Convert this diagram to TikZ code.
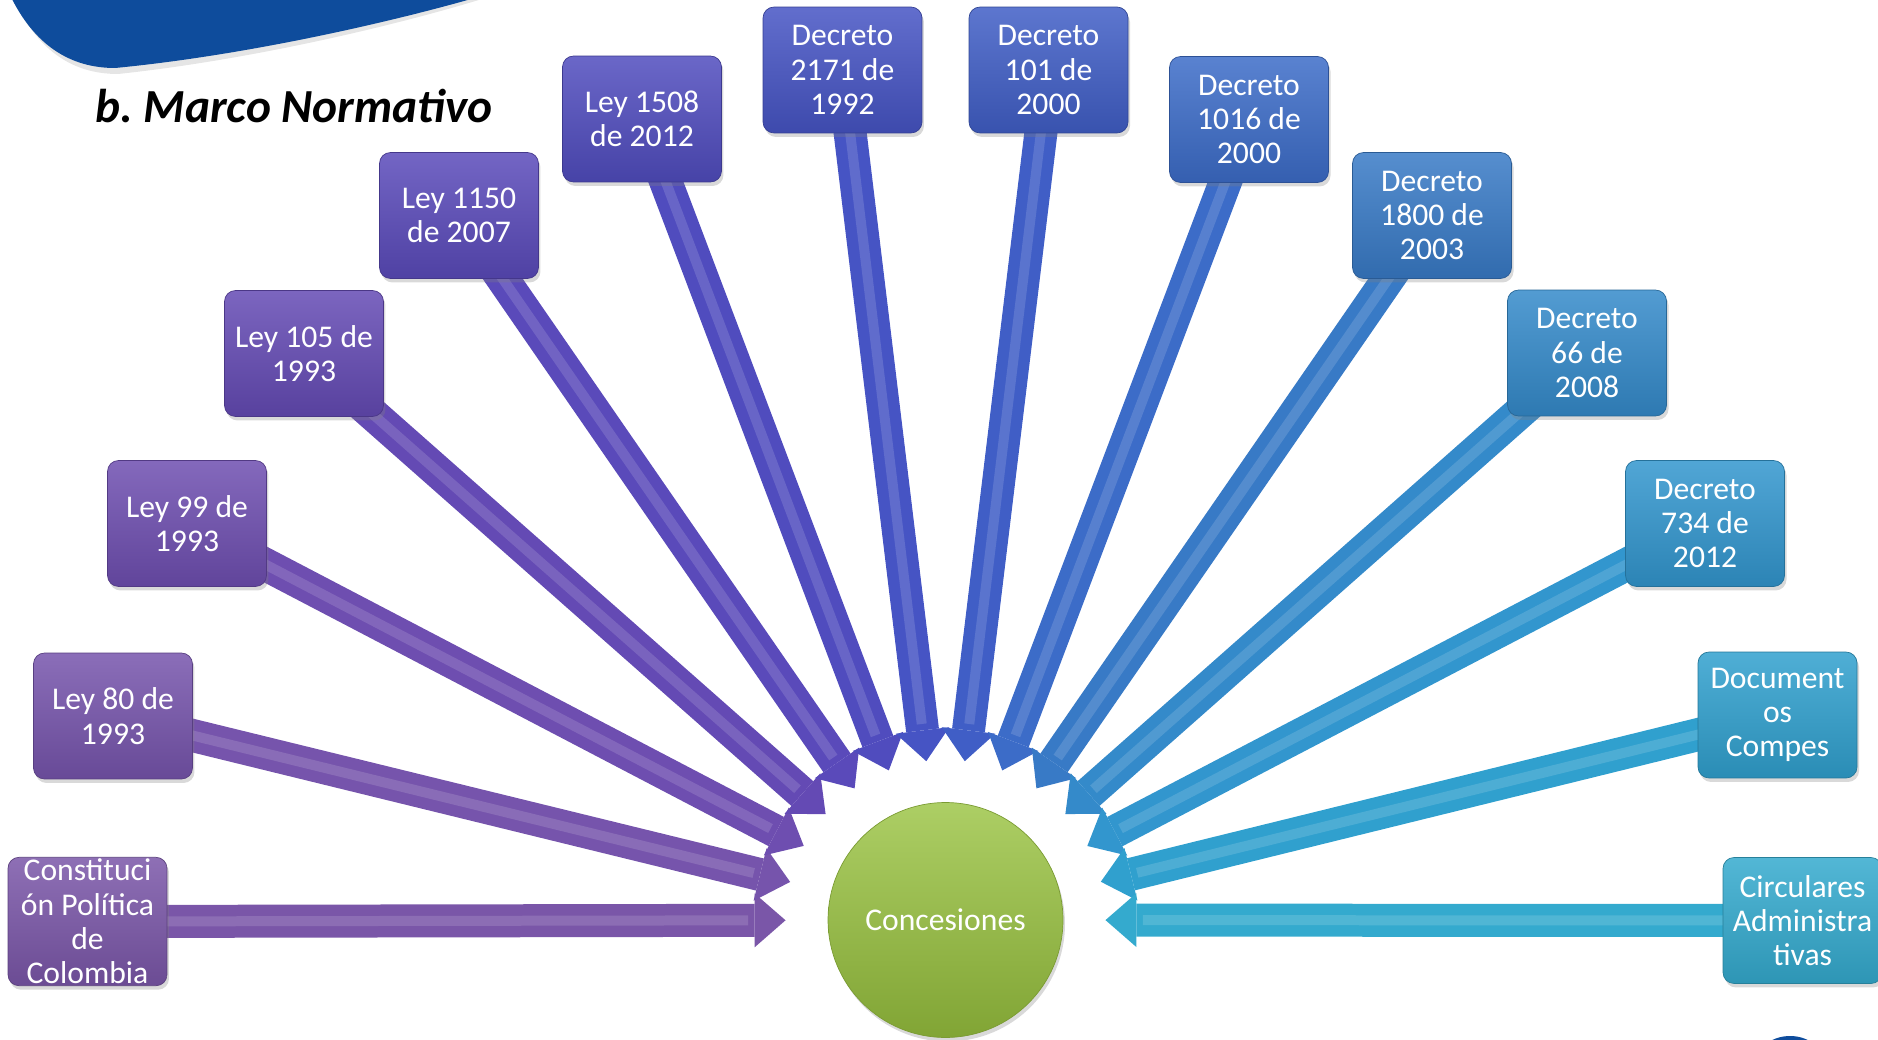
\documentclass[tikz,border=0pt]{standalone}
\usepackage{fontspec}
\setmainfont{Carlito}
\usetikzlibrary{arrows.meta, calc, backgrounds, shadows}

% colores de las cajas (de morado a cian)
\definecolor{colConst}{RGB}{122,86,168}
\definecolor{colLeyA}{RGB}{118,84,172}
\definecolor{colLeyB}{RGB}{110,78,176}
\definecolor{colLeyC}{RGB}{100,74,180}
\definecolor{colLeyD}{RGB}{90,74,186}
\definecolor{colLeyE}{RGB}{80,76,190}
\definecolor{colDecA}{RGB}{70,84,196}
\definecolor{colDecB}{RGB}{64,94,198}
\definecolor{colDecC}{RGB}{60,108,200}
\definecolor{colDecD}{RGB}{56,122,198}
\definecolor{colDecE}{RGB}{52,138,202}
\definecolor{colDecF}{RGB}{50,150,206}
\definecolor{colCompes}{RGB}{48,160,206}
\definecolor{colCirc}{RGB}{52,170,206}
\definecolor{verde}{RGB}{152,194,62}
\definecolor{azul}{RGB}{14,76,156}

\begin{document}
\begin{tikzpicture}[x=0.02cm, y=-0.02cm,
    caja/.style={rectangle, rounded corners=0.22cm, minimum width=3.18cm,
        minimum height=2.52cm, inner sep=1pt, align=center, text=white,
        font=\fontsize{18}{19.5}\selectfont, draw=#1!75!black, line width=0.4pt,
        top color=#1!85!white, bottom color=#1!88!black,
        drop shadow={shadow xshift=0.04cm, shadow yshift=-0.08cm, opacity=0.3}},
    flecha/.style={draw=#1, line width=0.66cm,
        -{Triangle[length=0.62cm, width=1.08cm, line width=0pt]}},
    brillo/.style={draw=white, opacity=0.14, line width=0.2cm, shorten >=0.75cm}]

    % =================================================================
    % 1. MARCO Y ADORNOS
    % =================================================================
    \useasboundingbox (0,0) rectangle (1878,1040);

    % Forma azul de la esquina superior
    \fill[gray!20] (12,-5) .. controls (36,50) and (72,74) .. (118,74)
        .. controls (250,60) and (400,25) .. (495,-5) -- cycle;
    \fill[azul] (10,-5) .. controls (34,45) and (70,68) .. (115,68)
        .. controls (250,55) and (400,20) .. (485,-5) -- cycle;

    % Mancha azul abajo a la derecha
    \fill[azul] (1790,1060) ellipse [x radius=0.64cm, y radius=0.48cm];

    % Titulo
    \node[anchor=base west, inner sep=0,
        font=\fontsize{27}{30}\selectfont\bfseries\itshape] (titulo)
        at (95,123) {b.\ Marco Normativo};

    % =================================================================
    % 2. CIRCULO CENTRAL
    % =================================================================
    \node[circle, minimum size=4.7cm, inner sep=0, text=white,
        font=\fontsize{18}{19.5}\selectfont, draw=verde!80!black,
        top color=verde!80!white, bottom color=verde!85!black,
        drop shadow={shadow xshift=0.04cm, shadow yshift=-0.08cm, opacity=0.3}]
        (conc) at (945.5,920) {Concesiones};

    % =================================================================
    % 3. CAJAS DE NORMAS Y FLECHAS HACIA EL CIRCULO
    % =================================================================
    \foreach \n/\x/\y/\c/\t in {
        const/87.5/921.5/colConst/{Constituci\\ón Política\\de\\Colombia},
        ley80/113/716/colLeyA/{Ley 80 de\\1993},
        ley99/187/523.5/colLeyB/{Ley 99 de\\1993},
        ley105/304/353.5/colLeyC/{Ley 105 de\\1993},
        ley1150/459/215.5/colLeyD/{Ley 1150\\de 2007},
        ley1508/642/119/colLeyE/{Ley 1508\\de 2012},
        dec2171/842.5/70/colDecA/{Decreto\\2171 de\\1992},
        dec101/1048.5/70/colDecB/{Decreto\\101 de\\2000},
        dec1016/1249/119.5/colDecC/{Decreto\\1016 de\\2000},
        dec1800/1432/215.5/colDecD/{Decreto\\1800 de\\2003},
        dec66/1587/353/colDecE/{Decreto\\66 de\\2008},
        dec734/1705/523.5/colDecF/{Decreto\\734 de\\2012},
        compes/1777.5/715/colCompes/{Document\\os\\Compes},
        circ/1802.5/920.5/colCirc/{Circulares\\Administra\\tivas}} {
        \node[caja=\c] (\n) at (\x,\y) {\t};
        \begin{scope}[on background layer]
            \draw[flecha=\c] (\n.center) -- ($(conc)!3.2cm!(\n)$);
            \draw[brillo] (\n.center) -- ($(conc)!3.2cm!(\n)$);
        \end{scope}
    }

\end{tikzpicture}
\end{document}
